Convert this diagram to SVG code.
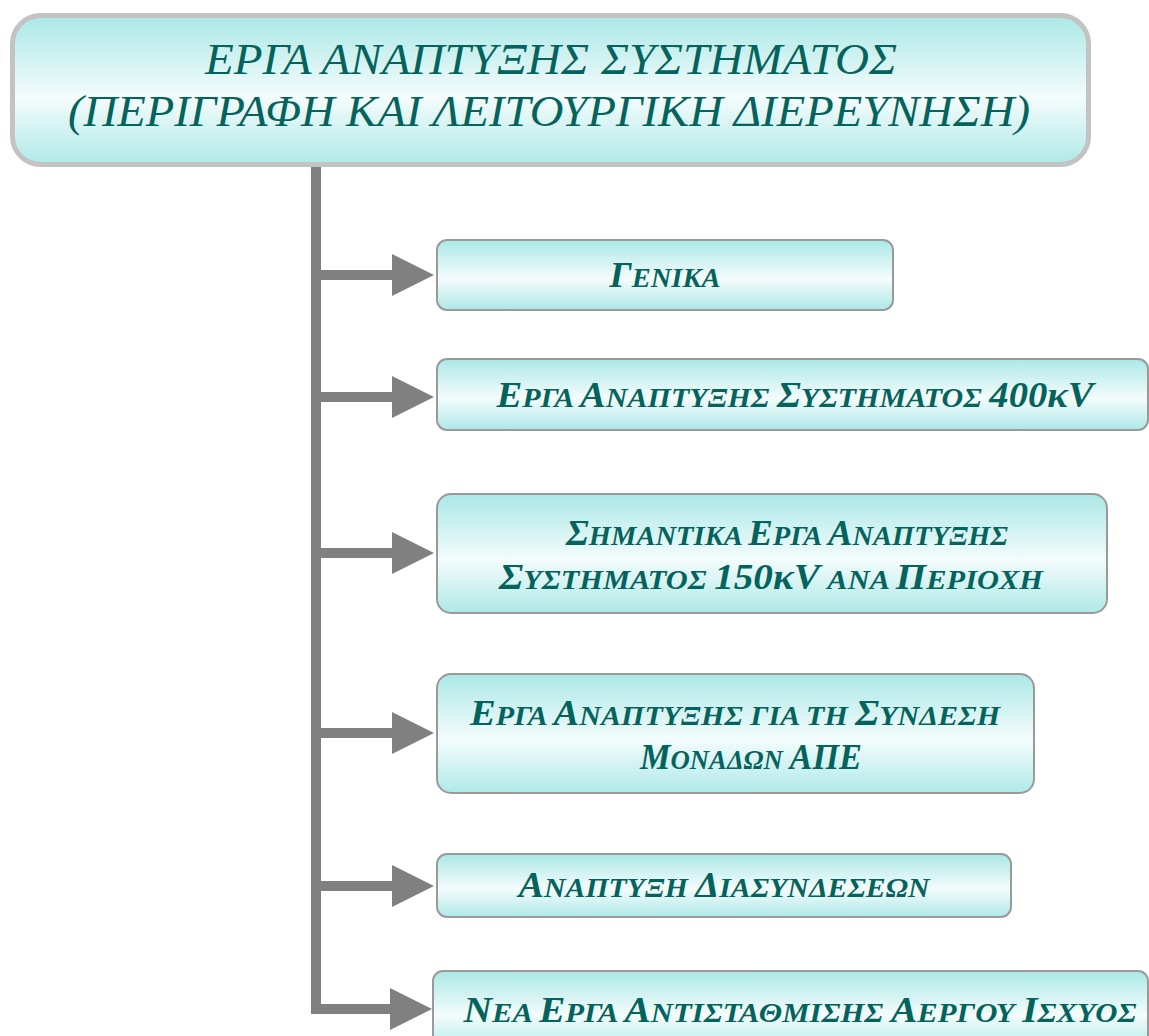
<svg xmlns="http://www.w3.org/2000/svg" width="1149" height="1036" viewBox="0 0 1149 1036">
<style>
.title{font-family:"Liberation Serif","Times New Roman",serif;font-style:italic;font-size:45px;fill:#04635d;text-anchor:middle}
.lbl{font-family:"Liberation Serif","Times New Roman",serif;font-style:italic;font-weight:bold;font-size:36px;fill:#04635d;text-anchor:middle}
.s{font-size:28px}
.box{fill:url(#g);stroke:#9a9a9a;stroke-width:2}
.conn{stroke:#808080;stroke-width:10;fill:none}
.head{fill:#808080}
</style>
<defs>
<linearGradient id="g" x1="0" y1="0" x2="0" y2="1">
<stop offset="0" stop-color="#aae8e6"/>
<stop offset="0.55" stop-color="#f4fcfc"/>
<stop offset="1" stop-color="#aee9e7"/>
</linearGradient>
</defs>
<g id="connectors">
<path class="conn" d="M316,167 V1009 H393" stroke-linejoin="miter"/>
<path class="conn" d="M316,275 H393"/>
<path class="conn" d="M316,397 H393"/>
<path class="conn" d="M316,553 H393"/>
<path class="conn" d="M316,733 H393"/>
<path class="conn" d="M316,886 H393"/>
<polygon class="head" points="392,254 392,296 434,275"/>
<polygon class="head" points="392,376 392,418 434,397"/>
<polygon class="head" points="392,532 392,574 434,553"/>
<polygon class="head" points="392,712 392,754 434,733"/>
<polygon class="head" points="392,865 392,907 434,886"/>
<polygon class="head" points="390,988 390,1030 432,1009"/>
</g>
<g id="root">
<rect x="12.5" y="15.5" width="1076" height="149" rx="28" fill="url(#g)" stroke="#c3c3c3" stroke-width="5"/>
<text class="title" x="551" y="74" textLength="692" lengthAdjust="spacingAndGlyphs">ΕΡΓΑ ΑΝΑΠΤΥΞΗΣ ΣΥΣΤΗΜΑΤΟΣ</text>
<text class="title" x="549" y="126" textLength="962" lengthAdjust="spacingAndGlyphs">(ΠΕΡΙΓΡΑΦΗ ΚΑΙ ΛΕΙΤΟΥΡΓΙΚΗ ΔΙΕΡΕΥΝΗΣΗ)</text>
</g>
<g id="n1">
<rect class="box" x="437" y="240" width="456" height="70" rx="10"/>
<text class="lbl" x="665" y="287" textLength="111" lengthAdjust="spacingAndGlyphs">Γ<tspan class="s">ΕΝΙΚΑ</tspan></text>
</g>
<g id="n2">
<rect class="box" x="437" y="359" width="711" height="71" rx="10"/>
<text class="lbl" x="795" y="407" textLength="597" lengthAdjust="spacingAndGlyphs">Ε<tspan class="s">ΡΓΑ </tspan>Α<tspan class="s">ΝΑΠΤΥΞΗΣ </tspan>Σ<tspan class="s">ΥΣΤΗΜΑΤΟΣ </tspan>400κV</text>
</g>
<g id="n3">
<rect class="box" x="437" y="494" width="670" height="119" rx="14"/>
<text class="lbl" x="787" y="545" textLength="442" lengthAdjust="spacingAndGlyphs">Σ<tspan class="s">ΗΜΑΝΤΙΚΑ </tspan>Ε<tspan class="s">ΡΓΑ </tspan>Α<tspan class="s">ΝΑΠΤΥΞΗΣ</tspan></text>
<text class="lbl" x="771" y="589" textLength="544" lengthAdjust="spacingAndGlyphs">Σ<tspan class="s">ΥΣΤΗΜΑΤΟΣ </tspan>150κV<tspan class="s"> ΑΝΑ </tspan>Π<tspan class="s">ΕΡΙΟΧΗ</tspan></text>
</g>
<g id="n4">
<rect class="box" x="437" y="674" width="597" height="119" rx="14"/>
<text class="lbl" x="735" y="725" textLength="530" lengthAdjust="spacingAndGlyphs">Ε<tspan class="s">ΡΓΑ </tspan>Α<tspan class="s">ΝΑΠΤΥΞΗΣ ΓΙΑ ΤΗ </tspan>Σ<tspan class="s">ΥΝΔΕΣΗ</tspan></text>
<text class="lbl" x="751" y="769" textLength="222" lengthAdjust="spacingAndGlyphs">Μ<tspan class="s">ΟΝΑΔΩΝ </tspan>ΑΠΕ</text>
</g>
<g id="n5">
<rect class="box" x="437" y="854" width="574" height="63" rx="10"/>
<text class="lbl" x="724" y="897" textLength="411" lengthAdjust="spacingAndGlyphs">Α<tspan class="s">ΝΑΠΤΥΞΗ </tspan>Δ<tspan class="s">ΙΑΣΥΝΔΕΣΕΩΝ</tspan></text>
</g>
<g id="n6">
<rect class="box" x="433" y="971" width="715" height="80" rx="10"/>
<text class="lbl" x="800" y="1022" textLength="673" lengthAdjust="spacingAndGlyphs">Ν<tspan class="s">ΕΑ </tspan>Ε<tspan class="s">ΡΓΑ </tspan>Α<tspan class="s">ΝΤΙΣΤΑΘΜΙΣΗΣ </tspan>Α<tspan class="s">ΕΡΓΟΥ </tspan>Ι<tspan class="s">ΣΧΥΟΣ</tspan></text>
</g>
</svg>
